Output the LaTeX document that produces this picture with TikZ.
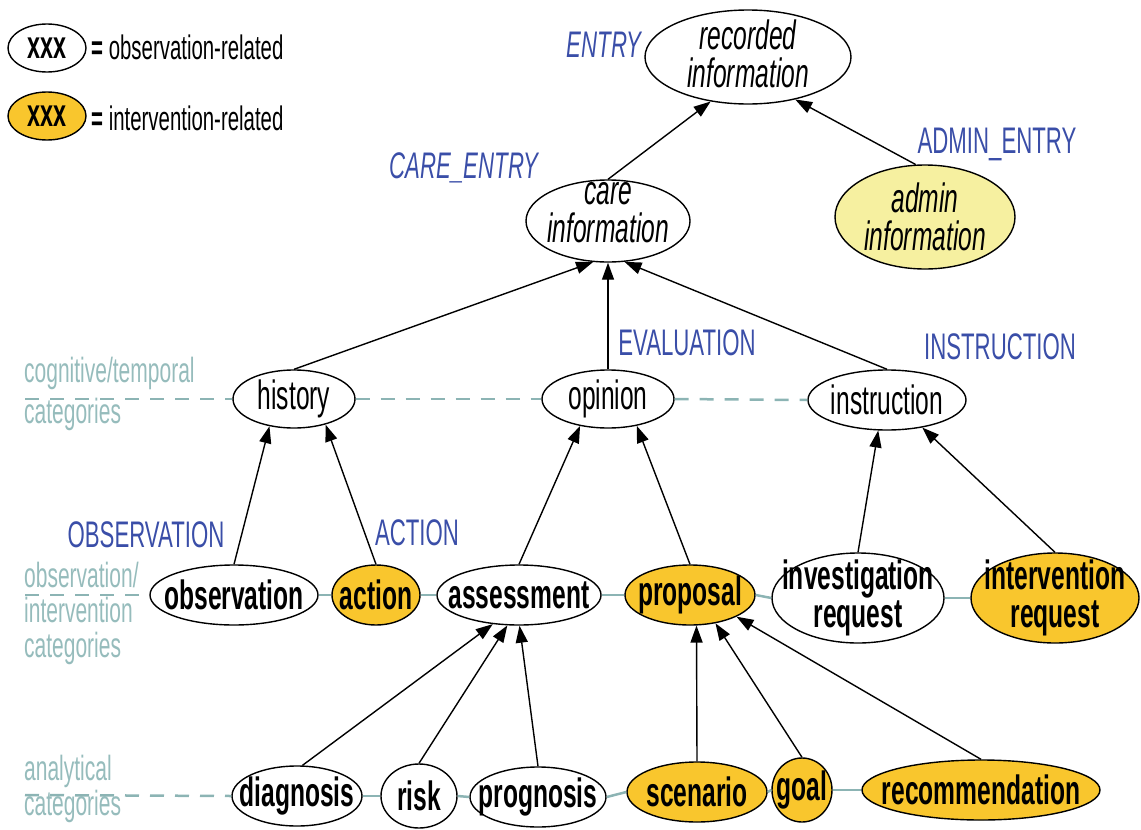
\documentclass[tikz,border=0pt]{standalone}
\usepackage{fontspec}
\setmainfont{Liberation Sans}[FakeStretch=0.6]
\usetikzlibrary{shapes.geometric,arrows.meta}
\definecolor{gold}{RGB}{249,198,45}
\definecolor{paleyellow}{RGB}{246,240,160}
\definecolor{kindblue}{RGB}{58,78,168}
\definecolor{catgray}{RGB}{150,188,188}
\definecolor{catline}{RGB}{140,180,180}
\begin{document}
\begin{tikzpicture}[x=1pt,y=-1pt,
  ell/.style={ellipse, draw=black, line width=1.4pt, inner sep=0pt, fill=white},
  intv/.style={ell, fill=gold},
  txt/.style={inner sep=0pt, align=center, font=\fontsize{41}{38}\selectfont},
  btxt/.style={txt, font=\fontsize{41}{38}\selectfont\bfseries},
  itxt/.style={txt, font=\fontsize{41}{38}\selectfont\itshape},
  kind/.style={inner sep=0pt, text=kindblue, font=\fontsize{37}{40}\selectfont},
  cat/.style={inner sep=0pt, anchor=west, align=left, text=catgray},
  catdash/.style={draw=catline, line width=2.5pt, dash pattern=on 14pt off 11pt},
  catsolid/.style={draw=catline, line width=2.5pt},
  arr/.style={line width=1.4pt, -{Triangle[length=17pt,width=12pt]}},
  legtxt/.style={inner sep=0pt, anchor=west, font=\fontsize{34}{40}\selectfont}
]
\useasboundingbox (0,0) rectangle (1141,830);

% legend
\node[ell, minimum width=78, minimum height=48,
  label={[btxt,font=\fontsize{39}{40}\selectfont\bfseries]center:xxx}] (legObs) at (47,48) {};
\node[legtxt] (legObsT) at (91,47) {\textbf{=} observation-related};
\node[intv, minimum width=78, minimum height=48,
  label={[btxt,font=\fontsize{39}{40}\selectfont\bfseries]center:xxx}] (legInt) at (47,116) {};
\node[legtxt] (legIntT) at (91,118) {\textbf{=} intervention-related};

% top of the hierarchy
\node[ell, minimum width=206, minimum height=94,
  label={[itxt,yshift=3pt]center:{recorded\\information}}] (rec) at (748,57) {};
\node[ell, minimum width=164, minimum height=82,
  label={[itxt,yshift=8pt]center:{care\\information}}] (care) at (608,221) {};
\node[ell, fill=paleyellow, minimum width=180, minimum height=104,
  label={[itxt]center:{admin\\information}}] (admin) at (925,217) {};

\node[kind, font=\fontsize{37}{40}\selectfont\itshape] (kEntry) at (604,45) {ENTRY};
\node[kind, font=\fontsize{37}{40}\selectfont\itshape] (kCare) at (464,168) {CARE\_ENTRY};
\node[kind] (kAdmin) at (997,144) {ADMIN\_ENTRY};

% cognitive / temporal level
\node[ell, minimum width=122, minimum height=58, label={[txt]center:history}] (hist) at (294,399) {};
\node[ell, minimum width=132, minimum height=58, label={[txt]center:opinion}] (opin) at (608,399) {};
\node[ell, minimum width=158, minimum height=60, label={[txt]center:instruction}] (instr) at (887,400) {};

\node[kind] (kEval) at (687,343) {EVALUATION};
\node[kind] (kInstr) at (1000,347) {INSTRUCTION};

% observation / intervention level
\node[ell, minimum width=168, minimum height=60, label={[btxt]center:observation}] (obs) at (234,595) {};
\node[intv, minimum width=88, minimum height=60, label={[btxt]center:action}] (act) at (376,595) {};
\node[ell, minimum width=164, minimum height=60, label={[btxt]center:assessment}] (assess) at (519,595) {};
\node[intv, minimum width=130, minimum height=60, label={[btxt]center:proposal}] (prop) at (690,595) {};
\node[ell, minimum width=172, minimum height=90, label={[btxt]center:{investigation\\request}}] (invreq) at (858,598) {};
\node[intv, minimum width=168, minimum height=90, label={[btxt]center:{intervention\\request}}] (intreq) at (1055,598) {};

\node[kind] (kObs) at (146,535) {OBSERVATION};
\node[kind] (kAct) at (417,533) {ACTION};

% analytical level
\node[ell, minimum width=130, minimum height=60, label={[btxt]center:diagnosis}] (diag) at (297,796) {};
\node[ell, minimum width=76, minimum height=64, label={[btxt]center:risk}] (risk) at (419,796) {};
\node[ell, minimum width=136, minimum height=60, label={[btxt]center:prognosis}] (prog) at (538,797) {};
\node[intv, minimum width=140, minimum height=60, label={[btxt]center:scenario}] (scen) at (697,792) {};
\node[intv, minimum width=60, minimum height=64, label={[btxt]center:goal}] (goal) at (802,790) {};
\node[intv, minimum width=238, minimum height=60, label={[btxt]center:recommendation}] (recom) at (981,790) {};

% category captions and guide lines
\node[cat, font=\fontsize{35}{41}\selectfont] (catCog) at (24,394) {cognitive/temporal\\categories};
\node[cat, font=\fontsize{35}{35}\selectfont] (catObs) at (24,613) {observation/\\intervention\\categories};
\node[cat, font=\fontsize{35}{35}\selectfont] (catAna) at (24,789) {analytical\\categories};

\coordinate (g1) at (25,399);
\coordinate (g2) at (25,595);
\coordinate (g3) at (25,795);
\draw[catdash] (g1) -- (hist.west);
\draw[catdash] (hist.east) -- (opin.west);
\draw[catdash] (opin.east) -- (instr.west);
\draw[catdash] (g2) -- (obs.west);
\draw[catsolid] (obs.east) -- (act.west);
\draw[catsolid] (act.east) -- (assess.west);
\draw[catsolid] (assess.east) -- (prop.west);
\draw[catsolid] (prop.east) -- (invreq.west);
\draw[catsolid] (invreq.east) -- (intreq.west);
\draw[catdash] (g3) -- (diag.west);
\draw[catsolid] (diag.east) -- (risk.west);
\draw[catsolid] (risk.east) -- (prog.west);
\draw[catsolid] (prog.east) -- (scen.west);
\draw[catsolid] (scen.east) -- (goal.west);
\draw[catsolid] (goal.east) -- (recom.west);

% specialisation arrows
\draw[arr] (care.north) -- (rec.230);
\draw[arr] (admin.100) -- (rec.318);
\draw[arr] (hist.north) -- (care.250);
\draw[arr] (opin.north) -- (care.south);
\draw[arr] (instr.north) -- (care.292);
\draw[arr] (obs.north) -- (hist.228);
\draw[arr] (act.north) -- (hist.321);
\draw[arr] (assess.north) -- (opin.224);
\draw[arr] (prop.north) -- (opin.317);
\draw[arr] (invreq.north) -- (instr.254);
\draw[arr] (intreq.north) -- (instr.322);
\draw[arr] (diag.80) -- (assess.228);
\draw[arr] (risk.north) -- (assess.249);
\draw[arr] (prog.north) -- (assess.271);
\draw[arr] (scen.north) -- (prop.282);
\draw[arr] (goal.north) -- (prop.312);
\draw[arr] (recom.north) -- (prop.335);
\end{tikzpicture}
\end{document}
